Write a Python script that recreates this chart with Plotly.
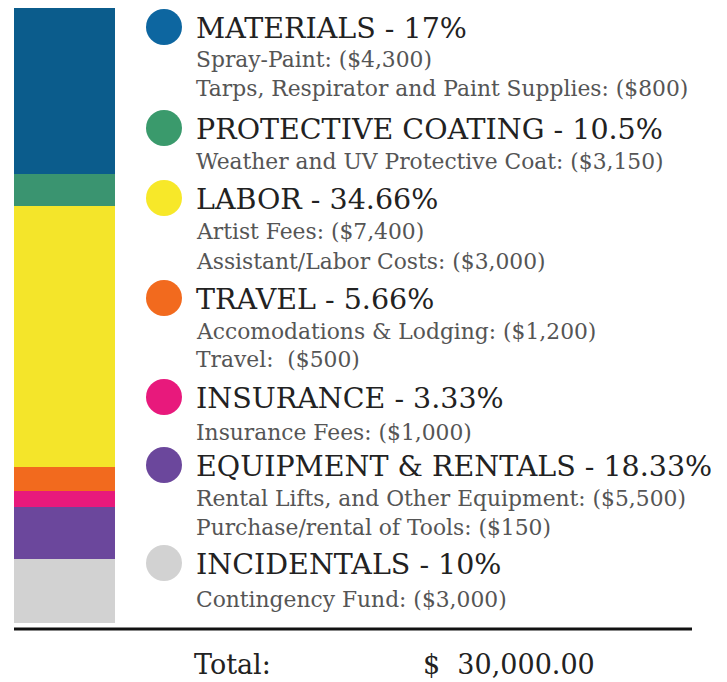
import plotly.graph_objects as go

# Data
categories = ["MATERIALS", "PROTECTIVE COATING", "LABOR", "TRAVEL",
              "INSURANCE", "EQUIPMENT & RENTALS", "INCIDENTALS"]
pct_labels = ["17%", "10.5%", "34.66%", "5.66%", "3.33%", "18.33%", "10%"]
# relative heights of the stacked bar segments as drawn (estimated)
bar_share = [27.0, 5.2, 42.4, 3.9, 2.6, 8.5, 10.4]
colors = ["#0b5c8c", "#3a9470", "#f4e52a", "#f26a1e", "#e8197c", "#6b479c", "#d2d2d2"]
dot_colors = ["#0d66a0", "#3a9a6c", "#f7e829", "#f26a1e", "#e8197c", "#6b479c", "#d2d2d2"]
sub_items = [
    ["Spray-Paint: ($4,300)", "Tarps, Respirator and Paint Supplies: ($800)"],
    ["Weather and UV Protective Coat: ($3,150)"],
    ["Artist Fees: ($7,400)", "Assistant/Labor Costs: ($3,000)"],
    ["Accomodations & Lodging: ($1,200)", "Travel:  ($500)"],
    ["Insurance Fees: ($1,000)"],
    ["Rental Lifts, and Other Equipment: ($5,500)", "Purchase/rental of Tools: ($150)"],
    ["Contingency Fund: ($3,000)"],
]
total_label = "Total:"
total_value = "$  30,000.00"

PAGE_W, PAGE_H = 727, 682
OFF = 8  # default page body margin
W, H = PAGE_W - OFF, PAGE_H - OFF
fig = go.Figure()

# stacked bar (first category on top)
for cat, val, col in reversed(list(zip(categories, bar_share, colors))):
    fig.add_trace(go.Bar(x=[0], y=[val], marker=dict(color=col, line=dict(width=0)),
                         width=1, showlegend=False, hoverinfo="skip", name=cat))

# legend layout in page-pixel coordinates on a second axis pair
head_y = [27, 128, 198, 298, 397, 465, 563]
sub_y = [[58, 87], [160], [230, 260], [330, 358], [431], [497, 526], [598]]

fig.add_trace(go.Scatter(x=[164] * len(categories), y=head_y, mode="markers",
                         marker=dict(size=36, color=dot_colors, line=dict(width=0)),
                         xaxis="x2", yaxis="y2", showlegend=False, hoverinfo="skip"))

annotations = []
serif = "DejaVu Serif"
head_font = dict(family=serif, size=28.5, color="#222222")
sub_font = dict(family=serif, size=21.8, color="#555555")
for cat, pct, hy, subs, sys in zip(categories, pct_labels, head_y, sub_items, sub_y):
    annotations.append(dict(x=194, y=hy + 1, xref="x2", yref="y2", text=f"{cat} - {pct}",
                            showarrow=False, xanchor="left", yanchor="middle", font=head_font))
    for s, yy in zip(subs, sys):
        annotations.append(dict(x=194, y=yy + 1, xref="x2", yref="y2", text=s,
                                showarrow=False, xanchor="left", yanchor="middle", font=sub_font))
total_font = dict(family=serif, size=27, color="#222222")
annotations.append(dict(x=192, y=664, xref="x2", yref="y2", text=total_label, showarrow=False,
                        xanchor="left", yanchor="middle", font=total_font))
annotations.append(dict(x=421, y=664, xref="x2", yref="y2", text=total_value, showarrow=False,
                        xanchor="left", yanchor="middle", font=total_font))

fig.update_layout(
    width=W, height=H, margin=dict(l=0, r=0, t=0, b=0),
    paper_bgcolor="white", plot_bgcolor="rgba(0,0,0,0)",
    barmode="stack", bargap=0,
    xaxis=dict(domain=[(14 - OFF) / W, (115 - OFF) / W], range=[-0.5, 0.5], visible=False,
               fixedrange=True, anchor="y"),
    yaxis=dict(domain=[(PAGE_H - 623) / H, 1], range=[0, sum(bar_share)],
               visible=False, fixedrange=True, anchor="x"),
    xaxis2=dict(domain=[0, 1], range=[OFF, PAGE_W], visible=False, anchor="y2", fixedrange=True),
    yaxis2=dict(domain=[0, 1], range=[PAGE_H, OFF], visible=False, anchor="x2", fixedrange=True),
    annotations=annotations,
    shapes=[dict(type="line", xref="x2", yref="y2", x0=14, x1=692, y0=629, y1=629,
                 line=dict(color="#111111", width=3))],
)

fig.write_html("out.html")
